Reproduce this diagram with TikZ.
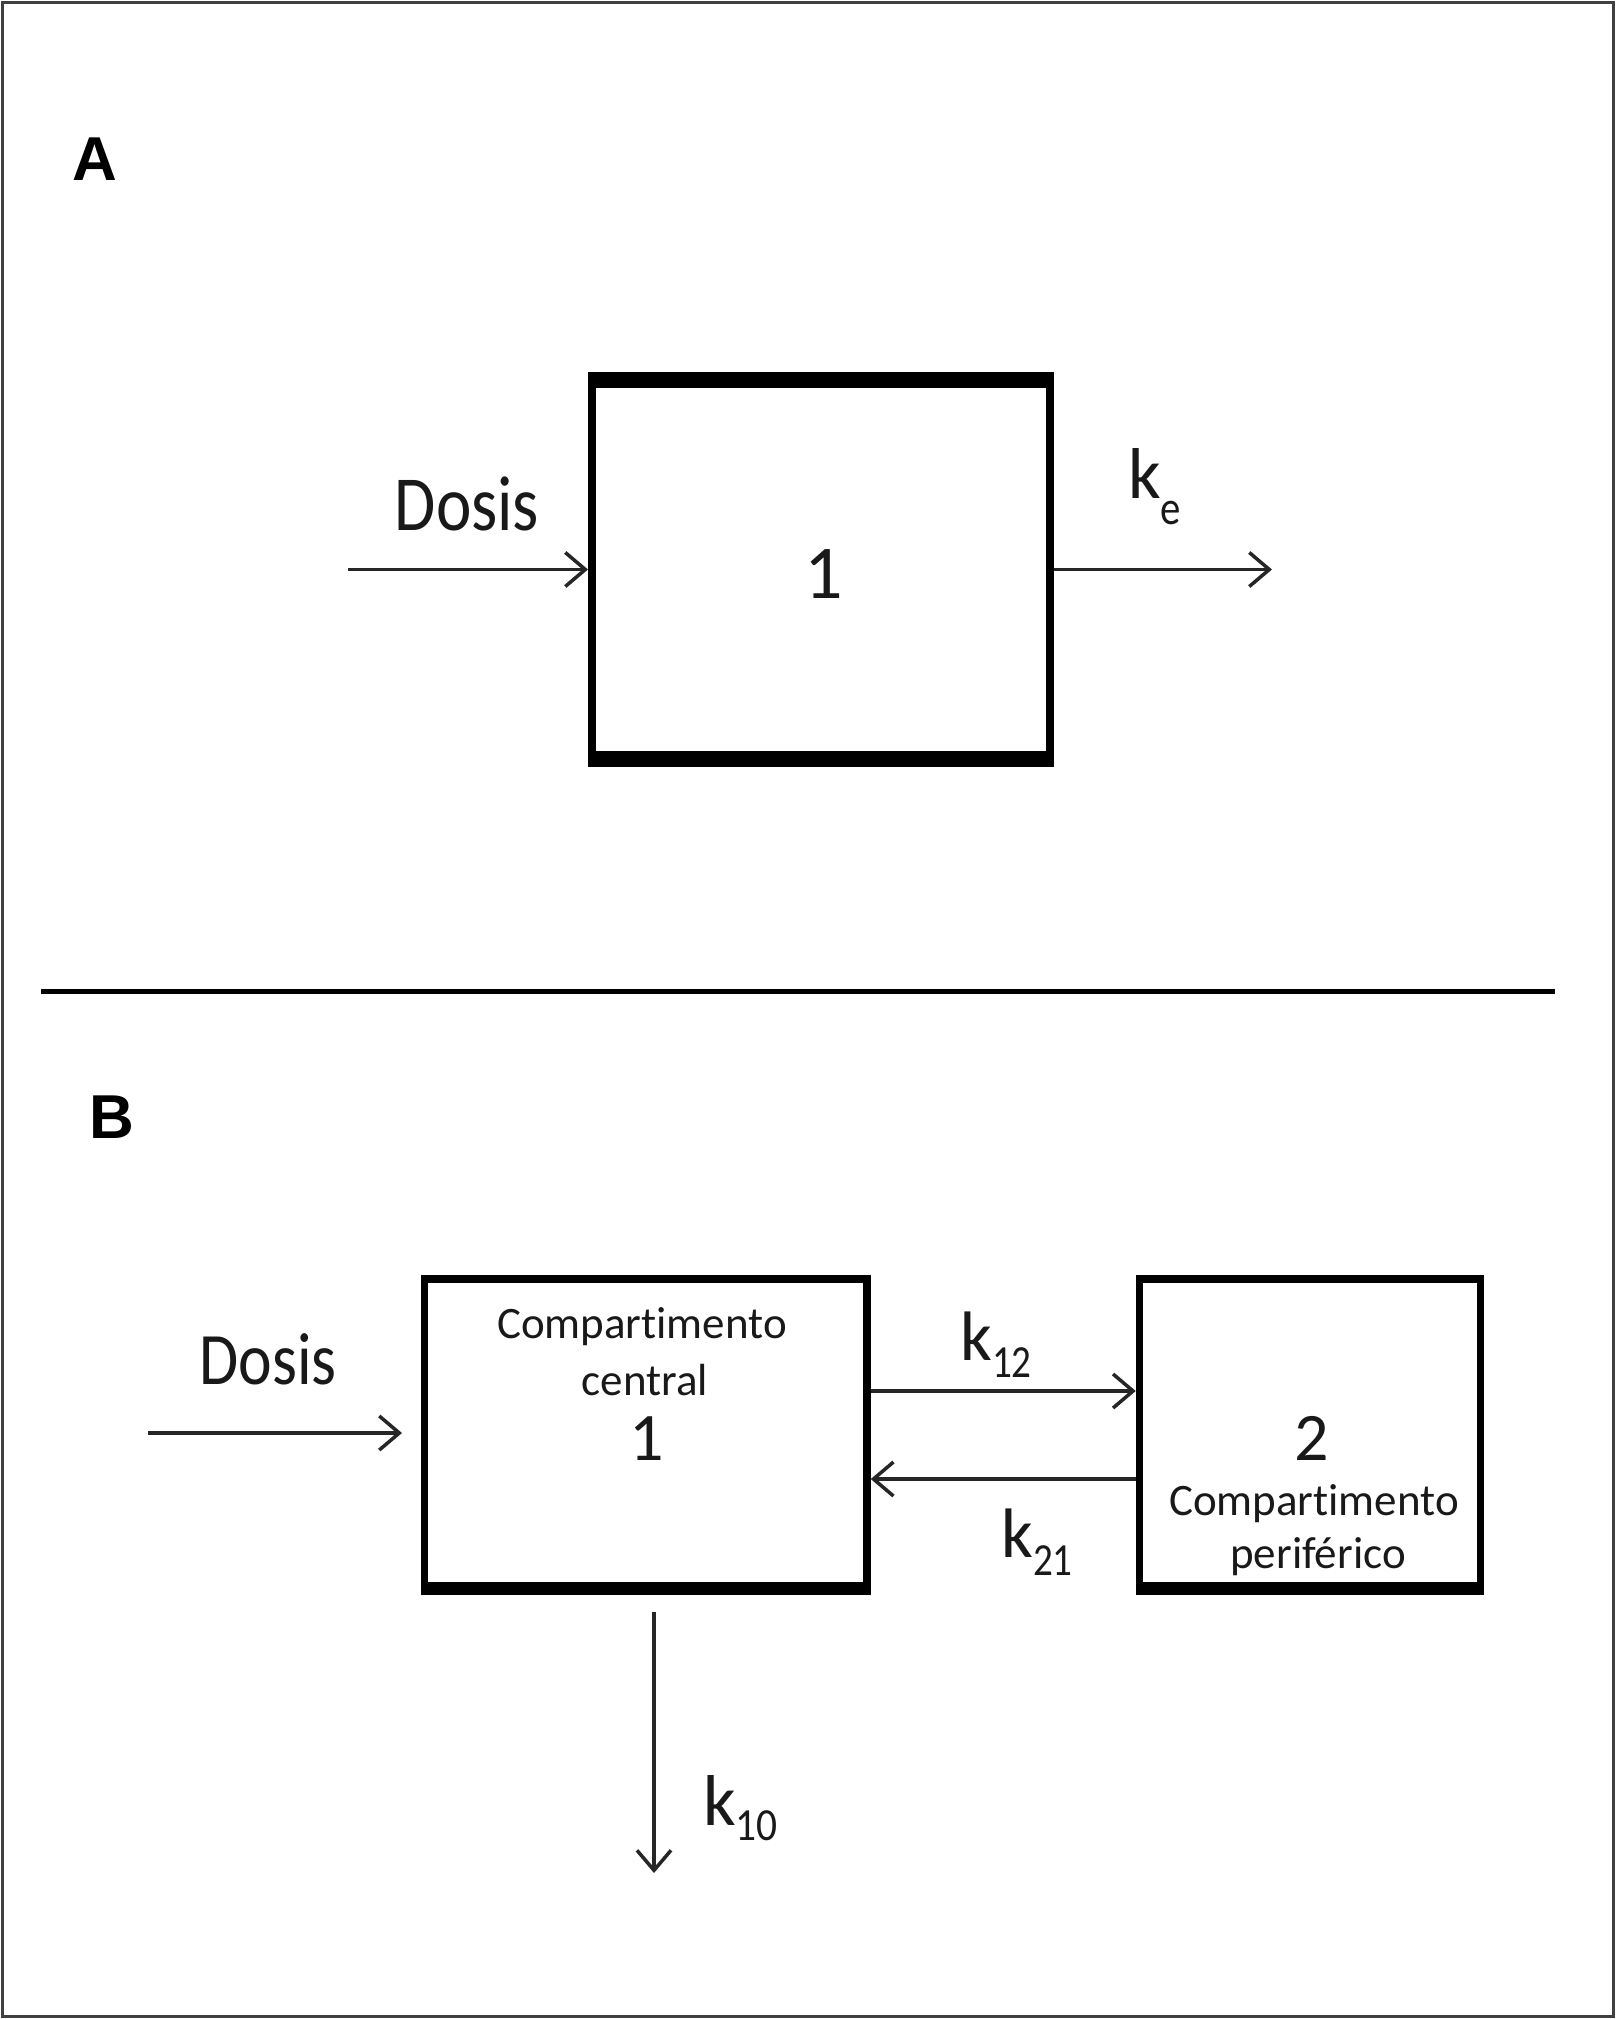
\documentclass[tikz,border=0pt]{standalone}
\usepackage{fontspec}
\setmainfont{Carlito}[Ligatures=NoCommon]
\newfontfamily\lblfont{Liberation Sans}
\usetikzlibrary{arrows.meta}
\newcommand\ksub[4]{{\fontsize{#1}{#1}\selectfont k\raisebox{-#4}{\fontsize{#3}{#3}\selectfont #2}}}
\begin{document}
\begin{tikzpicture}[x=1pt,y=-1pt,
  box/.style={draw=black, line width=8pt, inner sep=0pt},
  arr/.style={draw=black!85, line width=3.5pt, -{Straight Barb[length=20pt,width=34pt,line width=3.5pt]}},
  txt/.style={anchor=base, inner sep=0pt, text=black!90},
  panel/.style={anchor=base, inner sep=0pt, font=\lblfont\bfseries\fontsize{62pt}{62pt}\selectfont},
]
\useasboundingbox (0,0) rectangle (1616,2019);
\fill[white] (0,0) rectangle (1616,2019);
\draw[line width=3pt, black!75] (2,2) rectangle (1613,2016);

% Panel A
\node[panel] (lA) at (95,180) {A};
\node[box, minimum width=458pt, minimum height=387pt] (boxA) at (821,569.5) {};
\draw[line width=16pt] ([yshift=-8pt]boxA.north west) -- ([yshift=-8pt]boxA.north east);
\draw[line width=16pt] ([yshift=8pt]boxA.south west) -- ([yshift=8pt]boxA.south east);
\node[txt, font=\fontsize{76pt}{76pt}\selectfont] (oneA) at (824,598) {1};
\node[txt, font=\fontsize{78pt}{78pt}\selectfont] (dosisA) at (467,530) {\scalebox{0.86}[1]{Dosis}};
\node[txt, anchor=base west] (ke) at (1128,498) {\ksub{72pt}{\scalebox{0.85}[1]{e}}{48pt}{26pt}};
\coordinate (dAs) at (348,569.5);
\coordinate (keE) at (1272,569.5);
\draw[arr] (dAs) -- (boxA.west);
\draw[arr] (boxA.east) -- (keE);

% separator
\coordinate (sepL) at (41,991);
\coordinate (sepR) at (1555,991);
\draw[line width=5pt] (sepL) -- (sepR);

% Panel B
\node[panel] (lB) at (112,1138) {B};
\node[box, line width=7.5pt, minimum width=442.5pt, minimum height=312pt] (B1) at (645.75,1435) {};
\draw[line width=13pt] ([yshift=6.5pt]B1.south west) -- ([yshift=6.5pt]B1.south east);
\node[box, line width=7.5pt, minimum width=341pt, minimum height=312pt] (B2) at (1310,1435) {};
\draw[line width=13pt] ([yshift=6.5pt]B2.south west) -- ([yshift=6.5pt]B2.south east);

\node[txt, font=\fontsize{45pt}{45pt}\selectfont] (c1a) at (642,1338) {Compartimento};
\node[txt, font=\fontsize{45pt}{45pt}\selectfont] (c1b) at (645,1395) {central};
\node[txt, font=\fontsize{68pt}{68pt}\selectfont] (oneB) at (647,1460) {1};
\node[txt, font=\fontsize{68pt}{68pt}\selectfont] (twoB) at (1312,1460) {2};
\node[txt, font=\fontsize{45pt}{45pt}\selectfont] (c2a) at (1314,1515) {Compartimento};
\node[txt, font=\fontsize{45pt}{45pt}\selectfont] (c2b) at (1318,1568) {periférico};

\node[txt, font=\fontsize{74pt}{74pt}\selectfont] (dosisB) at (268,1384) {\scalebox{0.86}[1]{Dosis}};
\coordinate (dBs) at (148,1433);
\coordinate (dBe) at (402,1433);
\draw[arr] (dBs) -- (dBe);

\coordinate (y12) at (0,1391);
\coordinate (y21) at (0,1479);
\draw[arr] (B1.east |- y12) -- (B2.west |- y12);
\draw[arr] (B2.west |- y21) -- (B1.east |- y21);
\node[txt, anchor=base west] (k12) at (960,1360) {\ksub{70pt}{\scalebox{0.85}[1]{12}}{46pt}{17pt}};
\node[txt, anchor=base west] (k21) at (1001,1557) {\ksub{70pt}{\scalebox{0.85}[1]{21}}{46pt}{18pt}};

\coordinate (k10s) at (654,1612);
\coordinate (k10e) at (654,1873);
\draw[arr] (k10s) -- (k10e);
\node[txt, anchor=base west] (k10) at (703,1825) {\ksub{72pt}{\scalebox{0.9}[1]{10}}{46pt}{15pt}};
\end{tikzpicture}
\end{document}
